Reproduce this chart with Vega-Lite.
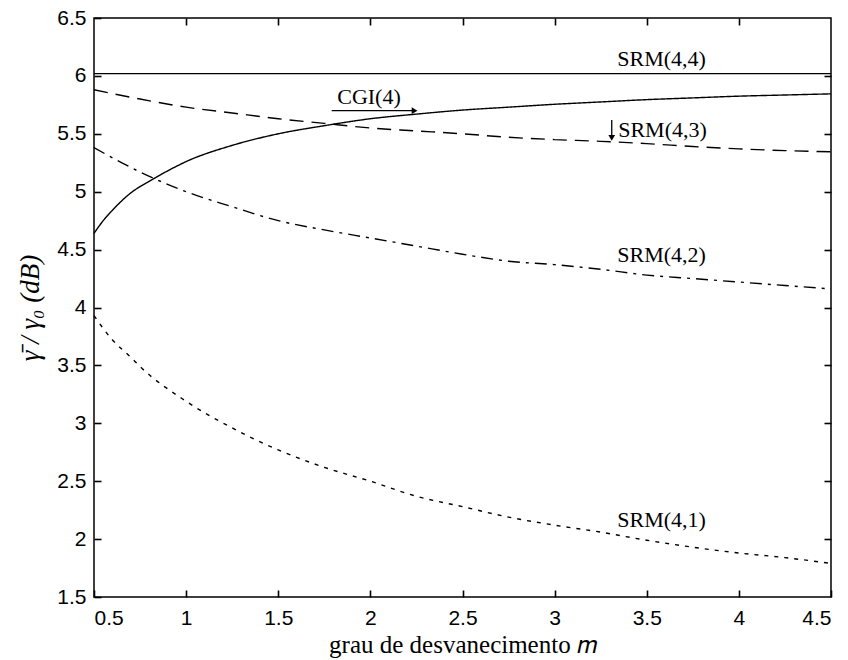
{
  "$schema": "https://vega.github.io/schema/vega-lite/v6.json",
  "width": 737,
  "height": 579,
  "autosize": "none",
  "padding": {"left": 94, "top": 18, "right": 17, "bottom": 63},
  "background": "white",
  "config": {
    "view": {"stroke": "black", "strokeWidth": 1.5},
    "axis": {
      "grid": false,
      "domain": false,
      "ticks": true,
      "tickColor": "black",
      "tickWidth": 1.6,
      "tickSize": 7,
      "labelFont": "Liberation Sans",
      "labelFontSize": 21,
      "labelColor": "black",
      "titleFont": "Liberation Serif",
      "titleFontSize": 25,
      "titleFontWeight": "normal",
      "titleColor": "black"
    },
    "text": {"font": "Liberation Serif", "fontSize": 22, "color": "black"}
  },
  "datasets": {
    "curves": [
      {"s": "SRM(4,4)", "m": 0.5, "v": 6.02},
      {"s": "SRM(4,4)", "m": 4.5, "v": 6.02},
      {"s": "CGI(4)", "m": 0.5, "v": 4.64},
      {"s": "CGI(4)", "m": 0.55, "v": 4.75},
      {"s": "CGI(4)", "m": 0.6, "v": 4.84},
      {"s": "CGI(4)", "m": 0.7, "v": 4.99},
      {"s": "CGI(4)", "m": 0.8, "v": 5.09},
      {"s": "CGI(4)", "m": 0.9, "v": 5.18},
      {"s": "CGI(4)", "m": 1.0, "v": 5.26},
      {"s": "CGI(4)", "m": 1.25, "v": 5.4},
      {"s": "CGI(4)", "m": 1.5, "v": 5.5},
      {"s": "CGI(4)", "m": 1.75, "v": 5.57},
      {"s": "CGI(4)", "m": 2.0, "v": 5.63},
      {"s": "CGI(4)", "m": 2.25, "v": 5.67},
      {"s": "CGI(4)", "m": 2.5, "v": 5.705},
      {"s": "CGI(4)", "m": 2.75, "v": 5.73},
      {"s": "CGI(4)", "m": 3.0, "v": 5.755},
      {"s": "CGI(4)", "m": 3.25, "v": 5.775},
      {"s": "CGI(4)", "m": 3.5, "v": 5.795},
      {"s": "CGI(4)", "m": 3.75, "v": 5.81},
      {"s": "CGI(4)", "m": 4.0, "v": 5.825},
      {"s": "CGI(4)", "m": 4.25, "v": 5.835},
      {"s": "CGI(4)", "m": 4.5, "v": 5.845},
      {"s": "SRM(4,3)", "m": 0.5, "v": 5.88},
      {"s": "SRM(4,3)", "m": 0.75, "v": 5.8},
      {"s": "SRM(4,3)", "m": 1.0, "v": 5.73},
      {"s": "SRM(4,3)", "m": 1.25, "v": 5.68},
      {"s": "SRM(4,3)", "m": 1.5, "v": 5.63},
      {"s": "SRM(4,3)", "m": 1.75, "v": 5.59},
      {"s": "SRM(4,3)", "m": 2.0, "v": 5.55},
      {"s": "SRM(4,3)", "m": 2.25, "v": 5.525},
      {"s": "SRM(4,3)", "m": 2.5, "v": 5.5},
      {"s": "SRM(4,3)", "m": 2.75, "v": 5.47},
      {"s": "SRM(4,3)", "m": 3.0, "v": 5.45},
      {"s": "SRM(4,3)", "m": 3.25, "v": 5.435},
      {"s": "SRM(4,3)", "m": 3.5, "v": 5.415},
      {"s": "SRM(4,3)", "m": 3.75, "v": 5.39},
      {"s": "SRM(4,3)", "m": 4.0, "v": 5.37},
      {"s": "SRM(4,3)", "m": 4.25, "v": 5.355},
      {"s": "SRM(4,3)", "m": 4.5, "v": 5.345},
      {"s": "SRM(4,2)", "m": 0.5, "v": 5.38},
      {"s": "SRM(4,2)", "m": 0.75, "v": 5.17},
      {"s": "SRM(4,2)", "m": 1.0, "v": 5.0},
      {"s": "SRM(4,2)", "m": 1.25, "v": 4.87},
      {"s": "SRM(4,2)", "m": 1.5, "v": 4.75},
      {"s": "SRM(4,2)", "m": 1.75, "v": 4.67},
      {"s": "SRM(4,2)", "m": 2.0, "v": 4.6},
      {"s": "SRM(4,2)", "m": 2.25, "v": 4.53},
      {"s": "SRM(4,2)", "m": 2.5, "v": 4.46},
      {"s": "SRM(4,2)", "m": 2.75, "v": 4.4},
      {"s": "SRM(4,2)", "m": 3.0, "v": 4.37},
      {"s": "SRM(4,2)", "m": 3.25, "v": 4.33},
      {"s": "SRM(4,2)", "m": 3.5, "v": 4.28},
      {"s": "SRM(4,2)", "m": 3.75, "v": 4.25},
      {"s": "SRM(4,2)", "m": 4.0, "v": 4.22},
      {"s": "SRM(4,2)", "m": 4.25, "v": 4.19},
      {"s": "SRM(4,2)", "m": 4.5, "v": 4.16},
      {"s": "SRM(4,1)", "m": 0.5, "v": 3.93},
      {"s": "SRM(4,1)", "m": 0.6, "v": 3.72},
      {"s": "SRM(4,1)", "m": 0.7, "v": 3.57},
      {"s": "SRM(4,1)", "m": 0.75, "v": 3.49},
      {"s": "SRM(4,1)", "m": 1.0, "v": 3.19},
      {"s": "SRM(4,1)", "m": 1.25, "v": 2.96},
      {"s": "SRM(4,1)", "m": 1.5, "v": 2.77},
      {"s": "SRM(4,1)", "m": 1.75, "v": 2.62},
      {"s": "SRM(4,1)", "m": 2.0, "v": 2.5},
      {"s": "SRM(4,1)", "m": 2.25, "v": 2.37},
      {"s": "SRM(4,1)", "m": 2.5, "v": 2.28},
      {"s": "SRM(4,1)", "m": 2.75, "v": 2.19},
      {"s": "SRM(4,1)", "m": 3.0, "v": 2.12},
      {"s": "SRM(4,1)", "m": 3.25, "v": 2.06},
      {"s": "SRM(4,1)", "m": 3.5, "v": 1.99},
      {"s": "SRM(4,1)", "m": 3.75, "v": 1.93},
      {"s": "SRM(4,1)", "m": 4.0, "v": 1.88},
      {"s": "SRM(4,1)", "m": 4.25, "v": 1.84},
      {"s": "SRM(4,1)", "m": 4.5, "v": 1.79}
    ],
    "labels": [
      {"label": "SRM(4,4)", "m": 3.34, "v": 6.15},
      {"label": "CGI(4)", "m": 1.82, "v": 5.82},
      {"label": "SRM(4,3)", "m": 3.345, "v": 5.53},
      {"label": "SRM(4,2)", "m": 3.34, "v": 4.45},
      {"label": "SRM(4,1)", "m": 3.34, "v": 2.165}
    ],
    "arrows": [
      {"name": "CGI(4)", "m": 1.79, "v": 5.7, "m2": 2.24, "v2": 5.7, "dir": "triangle-right", "hm": 2.24, "hv": 5.7},
      {"name": "SRM(4,3)", "m": 3.31, "v": 5.62, "m2": 3.31, "v2": 5.47, "dir": "triangle-down", "hm": 3.31, "hv": 5.465}
    ]
  },
  "resolve": {"axis": {"x": "independent", "y": "independent"}},
  "layer": [
    {
      "data": {"name": "curves"},
      "mark": {"type": "line", "strokeWidth": 1.4, "color": "black", "interpolate": "monotone"},
      "encoding": {
        "x": {
          "field": "m", "type": "quantitative",
          "scale": {"domain": [0.5, 4.5], "nice": false, "zero": false},
          "axis": {"orient": "bottom", "offset": -7, "values": [0.5, 1, 1.5, 2, 2.5, 3, 3.5, 4, 4.5], "format": "~g", "labelPadding": 10, "title": "grau de desvanecimento 𝑚", "titlePadding": 4}
        },
        "y": {
          "field": "v", "type": "quantitative",
          "scale": {"domain": [1.5, 6.5], "nice": false, "zero": false},
          "axis": {"orient": "left", "offset": -7, "values": [1.5, 2, 2.5, 3, 3.5, 4, 4.5, 5, 5.5, 6, 6.5], "format": "~g", "labelPadding": 8, "title": "γ̄ / γ₀  (dB)", "titleFontStyle": "italic", "titleFontSize": 27, "titlePadding": 12}
        },
        "detail": {"field": "s"},
        "strokeDash": {
          "field": "s", "type": "nominal", "legend": null,
          "scale": {
            "domain": ["SRM(4,4)", "CGI(4)", "SRM(4,3)", "SRM(4,2)", "SRM(4,1)"],
            "range": [[1, 0], [1, 0], [14, 8], [12, 6, 3, 6], [4, 6]]
          }
        }
      }
    },
    {
      "layer": [
        {
          "data": {"name": "arrows"},
          "mark": {"type": "rule", "color": "black", "strokeWidth": 1.3},
          "encoding": {
            "x": {"field": "m", "type": "quantitative", "axis": {"orient": "top", "offset": -7, "values": [1, 1.5, 2, 2.5, 3, 3.5, 4], "labels": false, "title": null}},
            "y": {"field": "v", "type": "quantitative", "axis": {"orient": "right", "offset": -7, "values": [2, 2.5, 3, 3.5, 4, 4.5, 5, 5.5, 6], "labels": false, "title": null}},
            "x2": {"field": "m2"},
            "y2": {"field": "v2"}
          }
        },
        {
          "data": {"name": "labels"},
          "mark": {"type": "text", "align": "left", "baseline": "middle"},
          "encoding": {
            "x": {"field": "m", "type": "quantitative"},
            "y": {"field": "v", "type": "quantitative"},
            "text": {"field": "label"}
          }
        },
        {
          "data": {"name": "arrows"},
          "mark": {"type": "point", "filled": true, "color": "black", "opacity": 1, "size": 45},
          "encoding": {
            "x": {"field": "hm", "type": "quantitative"},
            "y": {"field": "hv", "type": "quantitative"},
            "shape": {"field": "dir", "type": "nominal", "scale": null, "legend": null}
          }
        }
      ]
    }
  ]
}
